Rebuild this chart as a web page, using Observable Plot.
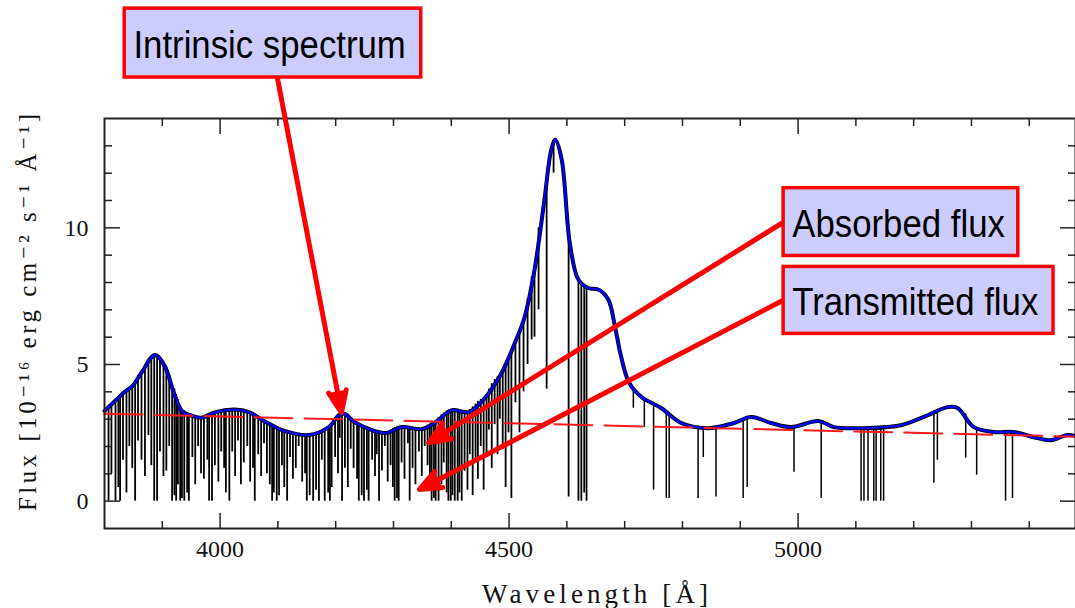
<!DOCTYPE html>
<html><head><meta charset="utf-8">
<script src="https://cdn.jsdelivr.net/npm/d3@7"></script>
<script src="https://cdn.jsdelivr.net/npm/@observablehq/plot@0.6"></script>
<style>body{margin:0;background:#fff;}</style>
</head><body><div id="chart"></div>
<script>
// Intrinsic (emitted) spectrum: [wavelength Å, flux]
const continuum = [[3800,3.3],[3820,3.7],[3835,4.0],[3848,4.2],[3864,4.7],[3887,5.35],[3904,4.95],[3921,3.9],[3935,3.27],[3952,3.12],[3968,3.05],[3991,3.25],[4025,3.35],[4050,3.26],[4072,2.98],[4094,2.73],[4107,2.6],[4154,2.42],[4188,2.71],[4206,3.15],[4216,3.19],[4233,2.89],[4285,2.49],[4314,2.71],[4349,2.64],[4371,2.86],[4401,3.33],[4430,3.26],[4458,3.77],[4487,4.69],[4510,5.79],[4527,6.74],[4544,8.46],[4561,11.0],[4573,12.86],[4580,13.22],[4591,12.5],[4605,9.45],[4620,8.1],[4637,7.8],[4656,7.73],[4672,7.36],[4682,6.52],[4694,5.27],[4708,4.32],[4729,3.81],[4763,3.41],[4798,2.86],[4845,2.67],[4889,2.86],[4919,3.08],[4953,2.86],[4988,2.71],[5035,2.93],[5062,2.71],[5109,2.67],[5178,2.78],[5225,3.15],[5259,3.44],[5276,3.41],[5304,2.71],[5339,2.53],[5373,2.53],[5408,2.34],[5437,2.23],[5466,2.42],[5480,2.38]];
// Power-law continuum (dashed)
const powerLaw = [[3800,3.2],[5480,2.36]];
// Lyman-alpha forest absorption: [wavelength, flux at top, flux at bottom]
const forestLines = [[3807,3.4,0],[3812,3.5,1.0],[3819,3.6,0],[3824,3.8,0.5],[3827,3.9,0],[3832,4.0,1.5],[3838,4.1,0.3],[3843,4.15,2.0],[3848,4.2,1.2],[3853,4.4,0],[3858,4.6,2.2],[3864,4.8,1.5],[3870,5.0,0.9],[3876,5.2,2.4],[3881,5.3,1.3],[3886,5.35,0],[3891,5.3,0],[3896,5.2,1.8],[3902,5.1,0.9],[3907,4.9,1.1],[3912,4.6,2.0],[3917,4.3,0],[3921,4.1,0.2],[3924,3.9,0],[3927,3.7,0.6],[3931,3.5,0],[3934,3.35,0.1],[3938,3.3,0],[3943,3.2,0.3],[3946,3.2,0],[3952,3.15,1.6],[3957,3.1,0.6],[3962,3.05,2.0],[3967,3.05,1.0],[3972,3.05,0.8],[3978,3.1,1.5],[3981,3.15,0],[3986,3.2,0],[3991,3.22,1.3],[3997,3.25,0.7],[4002,3.3,1.8],[4007,3.3,1.2],[4010,3.3,0.3],[4016,3.33,0],[4021,3.33,1.8],[4026,3.33,0.9],[4031,3.3,2.2],[4036,3.3,0.6],[4041,3.28,1.4],[4047,3.26,2.0],[4052,3.2,0.7],[4057,3.1,1.2],[4060,3.05,0],[4066,2.97,1.7],[4071,2.9,0.9],[4076,2.85,2.1],[4081,2.8,1.0],[4086,2.75,0.6],[4090,2.7,0],[4093,2.7,0.3],[4098,2.65,0],[4102,2.65,0.2],[4107,2.6,1.3],[4111,2.58,0.5],[4116,2.55,0],[4121,2.52,1.6],[4126,2.5,0.8],[4131,2.48,1.2],[4136,2.46,2.0],[4142,2.45,0.7],[4147,2.43,1.0],[4150,2.42,0],[4155,2.42,0.2],[4161,2.45,0],[4166,2.5,0.4],[4171,2.55,0],[4176,2.6,1.5],[4181,2.65,0],[4187,2.7,0.3],[4190,2.75,0],[4193,2.85,0.5],[4199,3.0,1.6],[4204,3.1,1.0],[4207,3.15,2.3],[4211,3.18,0],[4216,3.19,1.2],[4221,3.05,0.5],[4226,2.95,1.9],[4231,2.9,1.2],[4237,2.8,0.8],[4240,2.75,0],[4245,2.7,0.2],[4249,2.65,0],[4254,2.6,0.4],[4257,2.6,0],[4263,2.55,1.5],[4268,2.52,0.9],[4271,2.5,1.7],[4275,2.5,0],[4280,2.49,1.1],[4285,2.49,2.0],[4290,2.55,0.7],[4295,2.6,1.3],[4299,2.65,0.5],[4302,2.68,0],[4306,2.7,0.1],[4309,2.7,0],[4314,2.71,1.4],[4319,2.7,0.8],[4325,2.68,2.1],[4328,2.66,0],[4333,2.65,1.2],[4338,2.64,0.6],[4344,2.64,1.8],[4349,2.64,0.9],[4354,2.7,2.0],[4359,2.78,1.3],[4363,2.82,0.5],[4366,2.86,0],[4370,2.9,0.1],[4373,2.95,0],[4378,3.05,0],[4383,3.15,0.6],[4387,3.22,1.4],[4392,3.3,0.3],[4395,3.33,0],[4399,3.33,0],[4402,3.33,0.2],[4406,3.3,0],[4411,3.28,0],[4414,3.27,0.3],[4418,3.26,0],[4423,3.26,1.1],[4428,3.26,0.4],[4432,3.35,1.7],[4437,3.45,0.2],[4442,3.55,1.5],[4446,3.65,0.8],[4451,3.72,2.0],[4456,3.77,0.4],[4461,3.9,1.6],[4465,4.1,2.6],[4470,4.3,1.2],[4475,4.45,2.8],[4480,4.55,1.7],[4484,4.62,3.0],[4489,4.72,1.9],[4494,4.9,0.5],[4499,5.1,2.5],[4504,5.4,0.1],[4511,5.7,3.6],[4518,6.2,2.5],[4525,6.6,4.0],[4532,7.4,5.0],[4539,8.2,5.9],[4544,8.5,6.0],[4551,10.0,7.0],[4565,11.6,4.1],[4577,13.1,12.0],[4603,9.8,0.15],[4620,8.1,0],[4625,8.0,0],[4630,7.9,0.3],[4634,7.8,0]];
// Metal absorption lines redward of the emission line
const metalLines = [[4715,4.1,3.4],[4734,3.75,2.7],[4750,3.55,0.4],[4772,3.3,0.1],[4777,3.25,0.1],[4827,2.75,0.1],[4836,2.7,1.6],[4858,2.67,0.15],[4905,3.0,0.1],[4912,3.08,0.5],[4993,2.72,1.06],[5040,2.9,0.1],[5109,2.67,0],[5114,2.68,0],[5121,2.7,0],[5131,2.72,0],[5135,2.72,0],[5143,2.75,0],[5148,2.75,0],[5235,3.3,0.66],[5241,3.35,1.5],[5290,3.2,1.57],[5309,2.7,0.95],[5359,2.53,0],[5371,2.5,0.1]];

// Ticks and labels
const xMajorTicks = [4000, 4500, 5000];
const xMinorTicks = [3900, 4100, 4200, 4300, 4400, 4600, 4700, 4800, 4900, 5100, 5200, 5300, 5400];
const yMajorTicks = [0, 5, 10];
const yMinorTicks = [1, 2, 3, 4, 6, 7, 8, 9, 11, 12, 13];
const xTitle = "Wavelength [Å]";
const yTitle = "Flux [10⁻¹⁶ erg cm⁻² s⁻¹ Å⁻¹]";

// Annotations (data coordinates)
const annotationText = ["Intrinsic spectrum", "Absorbed flux", "Transmitted flux"];
const boxX1 = [3835, 4975, 4975];
const boxX2 = [4348, 5381, 5442];
const boxY1 = [15.5, 8.97, 6.12];
const boxY2 = [18.02, 11.45, 8.57];
const labelX = [3850, 4990, 4990];
const labelY = [16.23, 9.66, 6.81];
const arrowX1 = [4099, 4975, 4975];
const arrowY1 = [15.5, 10.21, 7.36];
const arrowX2 = [4210, 4361, 4345];
const arrowY2 = [3.24, 2.14, 0.43];

const ann = annotationText.map((t, i) => ({
  text: t, bx1: boxX1[i], bx2: boxX2[i], by1: boxY1[i], by2: boxY2[i],
  lx: labelX[i], ly: labelY[i], ax1: arrowX1[i], ay1: arrowY1[i], ax2: arrowX2[i], ay2: arrowY2[i]
}));

const serif = "'Liberation Serif', 'DejaVu Serif', serif";
const sans = "'Liberation Sans', Arial, sans-serif";
const tickStyle = {tickFormat: () => "", label: null, stroke: "#222", strokeWidth: 1.5};

const chart = Plot.plot({
  width: 1075, height: 608,
  marginLeft: 104, marginRight: 0, marginTop: 118, marginBottom: 80,
  style: {fontFamily: serif, fontSize: "24px", background: "#fff", color: "#000"},
  x: {domain: [3800, 5480], axis: null},
  y: {domain: [-1, 14], axis: null},
  marks: [
    Plot.ruleX(forestLines, {x: d => d[0], y1: d => d[1], y2: d => d[2], stroke: "#000", strokeWidth: 1.8}),
    Plot.ruleX(metalLines, {x: d => d[0], y1: d => d[1], y2: d => d[2], stroke: "#000", strokeWidth: 1.5}),
    Plot.line(continuum, {x: d => d[0], y: d => d[1], stroke: "#000", strokeWidth: 4, curve: "catmull-rom"}),
    Plot.line(continuum, {x: d => d[0], y: d => d[1], stroke: "#0000ff", strokeWidth: 2.4, curve: "catmull-rom"}),
    Plot.line(powerLaw, {x: d => d[0], y: d => d[1], stroke: "#ff1a1a", strokeWidth: 2, strokeDasharray: "38,12"}),
    Plot.frame({stroke: "#222", strokeWidth: 2}),
    Plot.axisX(xMinorTicks, {anchor: "bottom", tickSize: -7, ...tickStyle}),
    Plot.axisX(xMajorTicks, {anchor: "bottom", tickSize: -15, ...tickStyle}),
    Plot.axisX(xMinorTicks, {anchor: "top", tickSize: -7, ...tickStyle}),
    Plot.axisX(xMajorTicks, {anchor: "top", tickSize: -15, ...tickStyle}),
    Plot.axisY(yMinorTicks, {anchor: "left", tickSize: -8, ...tickStyle}),
    Plot.axisY(yMajorTicks, {anchor: "left", tickSize: -16, ...tickStyle}),
    Plot.axisY(yMinorTicks, {anchor: "right", tickSize: -8, ...tickStyle}),
    Plot.axisY(yMajorTicks, {anchor: "right", tickSize: -16, ...tickStyle}),
    Plot.axisX(xMajorTicks, {anchor: "bottom", tickSize: 0, tickPadding: 11, label: null, tickFormat: d => String(d), fontSize: 24, fill: "#111"}),
    Plot.axisY(yMajorTicks, {anchor: "left", tickSize: 0, tickPadding: 16, label: null, tickFormat: d => String(d), fontSize: 24, fill: "#111"}),
    Plot.text([xTitle], {frameAnchor: "bottom", dx: 5, dy: 66, fontSize: 27, fill: "#111", textAnchor: "middle", lineAnchor: "middle"}),
    Plot.text([yTitle], {frameAnchor: "left", dx: -77, dy: -11, rotate: -90, fontSize: 25, fill: "#111", textAnchor: "middle", lineAnchor: "middle"}),
    Plot.arrow(ann, {x1: "ax1", y1: "ay1", x2: "ax2", y2: "ay2", stroke: "#ff0000", fill: "#ff0000", strokeWidth: 5, headAngle: 45, headLength: 7}),
    Plot.rect(ann, {x1: "bx1", x2: "bx2", y1: "by1", y2: "by2", fill: "#ccccff", stroke: "#ff0000", strokeWidth: 3.5}),
    Plot.text(ann, {x: "lx", y: "ly", text: "text", textAnchor: "start", lineAnchor: "bottom", fontSize: 38, fontFamily: sans, fill: "#000"})
  ]
});

document.getElementById("chart").appendChild(chart);
chart.querySelectorAll("text").forEach(t => {
  const s = t.textContent;
  if (s === xTitle) { t.setAttribute("textLength", 226); t.setAttribute("lengthAdjust", "spacing"); }
  if (s === yTitle) { t.setAttribute("textLength", 397); t.setAttribute("lengthAdjust", "spacing"); }
  if (annotationText.includes(s)) {
    const L = t.getComputedTextLength();
    t.setAttribute("textLength", (L * 0.915).toFixed(1));
    t.setAttribute("lengthAdjust", "spacingAndGlyphs");
  }
});
</script>
</body></html>
